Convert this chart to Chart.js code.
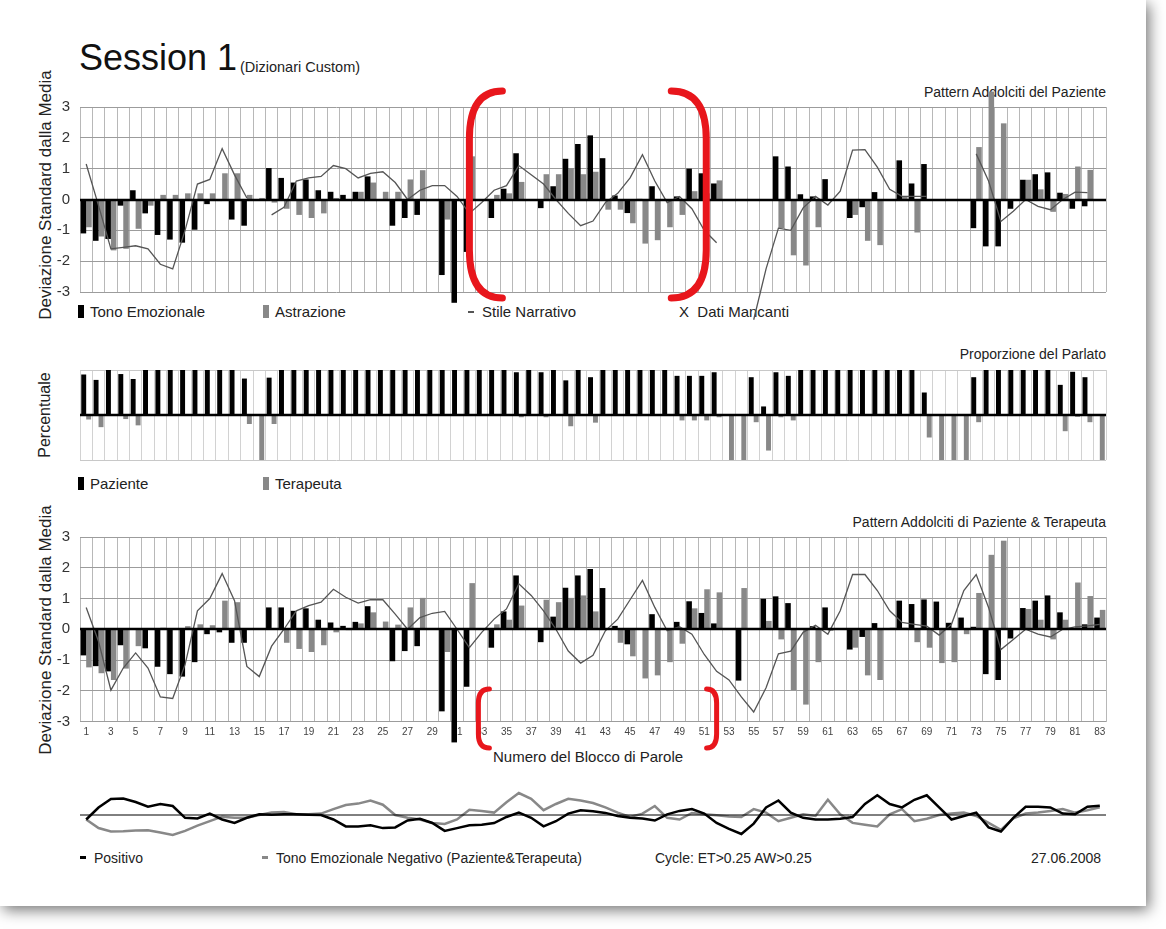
<!DOCTYPE html>
<html>
<head>
<meta charset="utf-8">
<title>Session 1</title>
<script src="https://cdn.jsdelivr.net/npm/chart.js@4.4.1/dist/chart.umd.min.js"></script>
<style>
  html, body { margin: 0; padding: 0; background: #fff; }
  body { width: 1166px; height: 929px; position: relative; overflow: hidden;
         font-family: "Liberation Sans", Arial, sans-serif; color: #222; }
  .sheet { position: absolute; left: 0; top: 0; width: 1146px; height: 906px; background: #fff;
           box-shadow: 3px 4px 14px rgba(0,0,0,0.55); }
  canvas { position: absolute; left: 0; }
  .t { position: absolute; white-space: nowrap; line-height: 1; }
  .r { text-align: right; }
  .v { transform: translate(-50%, -50%) rotate(-90deg); }
  .mk { display: inline-block; width: 6px; height: 13px; margin-right: 6px; vertical-align: -1px; }
  .dash { display: inline-block; width: 6px; height: 3px; margin-right: 8px; vertical-align: 4px; }
</style>
</head>
<body>
<div class="sheet"></div>

<div class="t" style="left:79px; top:40px; font-size:36px; color:#111;">Session 1</div>
<div class="t" style="left:240px; top:60px; font-size:14.5px;">(Dizionari Custom)</div>

<div class="t v" style="left:45px; top:195px; font-size:17px;">Deviazione Standard dalla Media</div>
<div class="t v" style="left:45px; top:415px; font-size:16px;">Percentuale</div>
<div class="t v" style="left:45px; top:630px; font-size:17px;">Deviazione Standard dalla Media</div>

<div class="t r" style="right:60px; top:85px; font-size:14px;">Pattern Addolciti del Paziente</div>
<div class="t r" style="right:60px; top:347px; font-size:14px;">Proporzione del Parlato</div>
<div class="t r" style="right:60px; top:515px; font-size:14px;">Pattern Addolciti di Paziente &amp; Terapeuta</div>

<div class="t" style="left:78px; top:304px; font-size:15px;"><span class="mk" style="background:#000"></span>Tono Emozionale</div>
<div class="t" style="left:263px; top:304px; font-size:15px;"><span class="mk" style="background:#888"></span>Astrazione</div>
<div class="t" style="left:468px; top:304px; font-size:15px;"><span class="dash" style="background:#555;height:2px"></span>Stile Narrativo</div>
<div class="t" style="left:679px; top:304px; font-size:15px;">X&nbsp; Dati Mancanti</div>

<div class="t" style="left:78px; top:476px; font-size:15px;"><span class="mk" style="background:#000"></span>Paziente</div>
<div class="t" style="left:263px; top:476px; font-size:15px;"><span class="mk" style="background:#888"></span>Terapeuta</div>

<div class="t" style="left:493px; top:749px; font-size:15px;">Numero del Blocco di Parole</div>

<div class="t" style="left:80px; top:851px; font-size:14px;"><span class="dash" style="background:#000"></span>Positivo</div>
<div class="t" style="left:262px; top:851px; font-size:14px;"><span class="dash" style="background:#888"></span>Tono Emozionale Negativo (Paziente&amp;Terapeuta)</div>
<div class="t" style="left:655px; top:851px; font-size:14px;">Cycle: ET&gt;0.25 AW&gt;0.25</div>
<div class="t" style="left:1031px; top:851px; font-size:14px;">27.06.2008</div>

<canvas id="chartPaziente" width="1166" height="240" style="top:80px"></canvas>
<canvas id="chartParlato" width="1166" height="130" style="top:350px"></canvas>
<canvas id="chartCoppia" width="1166" height="250" style="top:510px"></canvas>
<canvas id="chartCiclo" width="1166" height="70" style="top:780px"></canvas>

<script>
// blocchi di parole 1..83
const blocchi = [1,2,3,4,5,6,7,8,9,10,11,12,13,14,15,16,17,18,19,20,21,22,23,24,25,26,27,28,29,30,
  31,32,33,34,35,36,37,38,39,40,41,42,43,44,45,46,47,48,49,50,51,52,53,54,55,56,57,58,59,60,
  61,62,63,64,65,66,67,68,69,70,71,72,73,74,75,76,77,78,79,80,81,82,83];
const yTicks = [-3, -2, -1, 0, 1, 2, 3];

// Pattern Addolciti del Paziente
const tonoPaziente = [-1.1,-1.34,-1.28,-0.2,0.3,-0.45,-1.15,-1.3,-1.4,-0.98,-0.15,-0.05,-0.65,-0.85,0,
  1.02,0.7,0.55,0.65,0.3,0.25,0.15,0.25,0.75,0,-0.85,-0.6,-0.5,0,-2.45,-3.35,-1.7,0,-0.6,0.35,
  1.5,0,-0.28,0.43,1.32,1.8,2.08,1.34,0.13,-0.44,0.02,0.43,0,0.1,1.0,0.85,0.52,0,0,0,
  0,1.4,1.07,0.17,0.1,0.66,0,-0.6,-0.25,0.24,0,1.27,0.52,1.15,0,0,0,-0.93,-1.52,-1.52,
  -0.3,0.64,0.82,0.88,0.22,-0.3,-0.22,0];
const astrazionePaziente = [-0.9,-1.2,-1.65,-1.6,-0.95,-0.2,0.15,0.15,0.2,0.2,0.2,0.85,0.85,0.15,0.05,
  -0.1,-0.3,-0.5,-0.6,-0.45,0.05,0,0.25,0.55,0.25,0.25,0.65,0.95,0,-0.65,0,1.4,0,0.15,0.2,
  0.57,0,0.82,0.82,1.02,0.82,0.9,-0.33,-0.33,-0.77,-1.43,-1.32,-0.9,-0.5,0.27,0.2,0.62,0,0,0,
  0,-0.93,-1.81,-2.14,-0.9,0,0,-0.5,-1.34,-1.48,0,0.1,-1.07,0,0,0,0,1.7,3.5,2.47,
  0,0.64,0.33,-0.4,0.18,1.07,0.96,0];
const stilePaziente = [1.15,-0.2,-1.6,-1.55,-1.5,-1.6,-2.1,-2.25,-1.0,0.5,0.65,1.65,0.8,0.05,null,
  -0.5,-0.25,0.6,0.7,0.75,1.1,1.0,0.7,0.85,0.9,0.55,0.0,0.3,0.45,0.45,0.1,-0.45,-0.1,0.3,0.45,
  1.1,0.8,0.5,0.0,-0.45,-0.85,-0.7,-0.1,0.2,0.7,1.45,0.6,-0.1,0.1,-0.3,-1.0,-1.4,null,null,-3.9,
  -2.25,-0.93,-1.0,-0.27,0.1,-0.18,0.27,1.6,1.62,1.05,0.33,0.1,0.1,0.1,null,null,null,1.48,0.6,-0.71,
  -0.38,0,-0.22,-0.33,0,0.24,0.22,null];

// Proporzione del Parlato
const quotaPaziente = [0.9,0.78,1,0.91,0.8,1,1,1,1,1,1,1,1,0.81,0,
  0.83,1,1,1,1,1,1,1,1,1,1,1,1,1,1,1,1,1,1,1,
  0.95,1,0.95,1,0.77,1,0.84,1,1,1,1,1,1,0.87,0.87,0.87,0.95,0,0,0.84,
  0.19,0.95,0.87,1,1,1,1,1,1,1,1,1,1,0.5,0,0,0,0.84,1,1,
  1,1,1,1,0.67,0.96,0.84,0];
const quotaTerapeuta = [-0.1,-0.27,0,-0.09,-0.23,0,0,0,0,0,0,0,0,-0.2,-1,
  -0.2,0,0,0,0,0,0,0,0,0,0,0,0,0,0,0,0,0,0,0,
  -0.05,0,-0.05,0,-0.25,0,-0.17,0,0,0,0,0,0,-0.12,-0.12,-0.12,-0.05,-1,-1,-0.16,
  -0.79,-0.05,-0.12,0,0,0,0,0,0,0,0,0,0,-0.5,-1,-1,-1,-0.16,0,0,
  0,0,0,0,-0.36,-0.04,-0.16,-1];

// Pattern Addolciti di Paziente & Terapeuta
const tonoCoppia = [-0.85,-1.2,-1.37,-0.52,0,-0.62,-1.22,-1.46,-1.54,-1.07,-0.16,-0.1,-0.44,-0.44,0,
  0.71,0.71,0.6,0.68,0.31,0.22,0.11,0.24,0.75,0,-1.04,-0.71,-0.55,0,-2.67,-3.68,-1.87,0,-0.6,0.58,
  1.75,0,-0.42,0.41,1.35,1.75,1.96,1.34,0.11,-0.49,0,0.49,0,0.24,0.91,0.53,0.19,0,-1.67,0,
  0.99,1.07,0.85,0.03,0.1,0.71,0,-0.66,-0.25,0.2,0,0.93,0.82,0.97,0.9,0.21,0.38,0.08,-1.46,-1.65,
  -0.3,0.69,0.93,1.1,0.55,0.03,0.16,0.38];
const astrazioneCoppia = [-1.24,-1.43,-1.65,-1.28,-0.55,0,0.05,0,0.1,0.16,0.13,0.93,0.88,0,0,
  0,-0.44,-0.64,-0.74,-0.52,-0.1,-0.03,0.19,0.55,0.25,0.15,0.71,1.02,0,-0.74,0,1.5,0,0.16,0.31,
  0.77,0,0.96,0.88,1.02,1.1,0.58,0,-0.44,-0.88,-1.6,-1.5,-1.07,-0.47,0.68,1.3,1.2,0,1.34,0,
  0.27,-0.33,-1.98,-2.45,-1.07,-0.05,0,-0.6,-1.5,-1.65,0.05,0.05,-0.42,-0.6,-1.1,-1.07,-0.16,1.18,2.42,2.88,
  0,0.66,0.31,-0.33,0.31,1.52,1.08,0.63];
const stileCoppia = [0.71,-0.4,-1.98,-1.26,-0.77,-1.26,-2.2,-2.25,-1.15,0.6,1.0,1.81,0.93,-1.21,-1.54,
  -0.55,0,0.6,0.77,0.88,1.3,1.04,0.85,0.96,0.96,0.49,0,0.38,0.52,0.58,0,-0.6,-0.1,0.33,0.66,
  1.48,1.1,0.6,0,-0.71,-1.1,-0.85,-0.05,0.33,0.96,1.59,0.71,-0.05,0.08,-0.16,-0.82,-1.37,-1.65,-2.2,-2.69,
  -1.9,-0.8,-0.71,-0.1,0.13,-0.16,0.6,1.78,1.78,1.26,0.6,0.22,0.16,0.1,-0.19,0.16,1.26,1.78,0.71,-0.66,
  -0.33,0,-0.16,-0.25,0,0.08,0.11,0.16];

// Ciclo: tono positivo / negativo
const tonoPositivo = [-0.45,0.75,1.6,1.65,1.3,0.83,1.1,0.9,-0.28,-0.35,0.14,-0.45,-0.8,-0.28,0.07,
  0.03,0.07,0.07,0.03,0,-0.45,-1.14,-1.14,-1.03,-1.31,-1.24,-0.55,-0.38,-0.8,-1.59,-1.31,-1.03,-0.97,-0.8,-0.2,
  0.24,-0.28,-1.14,-0.62,0.14,0.48,0.38,0.21,-0.1,-0.28,-0.34,-0.55,0.07,0.41,0.59,0.14,-0.79,-1.38,-1.9,-0.86,
  0.76,1.45,0.24,-0.28,-0.45,-0.45,-0.38,-0.2,1.1,1.97,1.1,0.76,1.52,1.97,0.76,-0.45,-0.1,0.24,-1.24,-1.65,
  -0.28,0.83,0.83,0.76,0.14,0.07,0.83,0.93];
const tonoNegativo = [-0.45,-1.3,-1.65,-1.62,-1.55,-1.52,-1.76,-2.0,-1.59,-1.07,-0.62,-0.17,-0.28,-0.28,0,
  0.24,0.31,0.07,0.07,0.14,0.59,1.0,1.14,1.45,1.03,0,-0.28,-0.45,-0.8,-0.9,-0.45,0.52,0.41,0.24,1.28,
  2.2,1.62,0.48,1.1,1.62,1.45,1.2,0.76,0.24,-0.2,0.14,0.9,-0.28,-0.45,0.2,0.07,-0.03,-0.14,-0.2,0.59,
  0.24,-0.62,-0.28,0.07,-0.1,1.52,0.07,-0.79,-0.97,-1.14,0.07,0.59,-0.62,-0.38,0,0.14,0.24,-0.1,-0.79,-1.48,
  -0.34,0.14,0.24,0.41,0.59,0.24,0.48,0.76];

const NERO = '#000000';
const GRIGIO = '#888888';
const LINEA = '#555555';

// thick line on zero, drawn over the bars
const zeroLine = {
  id: 'zeroLine',
  afterDatasetsDraw(chart, args, opts) {
    const { ctx, chartArea, scales } = chart;
    const y = Math.round(scales.y.getPixelForValue(0));
    ctx.save();
    ctx.strokeStyle = opts.color || '#000';
    ctx.lineWidth = opts.width || 2.5;
    ctx.beginPath();
    ctx.moveTo(chartArea.left, y);
    ctx.lineTo(chartArea.right, y);
    ctx.stroke();
    ctx.restore();
  }
};

// red brackets used to mark a zone of the session
const brackets = {
  id: 'brackets',
  afterDraw(chart, args, opts) {
    if (!opts.items) return;
    const { ctx, scales } = chart;
    ctx.save();
    ctx.strokeStyle = '#e8161c';
    ctx.lineWidth = opts.width;
    ctx.lineCap = 'round';
    opts.items.forEach(b => {
      const x = scales.x.getPixelForValue(b.at) + (b.dx || 0);
      const d = b.depth, r = opts.radius;
      ctx.beginPath();
      ctx.moveTo(x + d, opts.y0);
      ctx.quadraticCurveTo(x, opts.y0, x, opts.y0 + r);
      ctx.lineTo(x, opts.y1 - r);
      ctx.quadraticCurveTo(x, opts.y1, x + d, opts.y1);
      ctx.stroke();
    });
    ctx.restore();
  }
};

Chart.register(zeroLine, brackets);
Chart.defaults.font.family = '"Liberation Sans", Arial, sans-serif';
Chart.defaults.color = '#222';

function yFit(scale) { scale.width = 80; }
function xFit(h) { return scale => { scale.height = h; }; }

function patternChart(id, tono, astrazione, stile, padTop, padBottom, xLabels, bracketOpts) {
  return new Chart(document.getElementById(id), {
    type: 'bar',
    data: {
      labels: blocchi,
      datasets: [
        { label: 'Tono Emozionale', data: tono, backgroundColor: NERO, order: 2, clip: false,
          categoryPercentage: 0.9, barPercentage: 1.0 },
        { label: 'Astrazione', data: astrazione, backgroundColor: GRIGIO, order: 2, clip: false,
          categoryPercentage: 0.9, barPercentage: 1.0 },
        { type: 'line', label: 'Stile Narrativo', data: stile, borderColor: LINEA, borderWidth: 1.3,
          pointRadius: 0, tension: 0, order: 1, clip: false, spanGaps: false }
      ]
    },
    options: {
      responsive: false,
      animation: false,
      devicePixelRatio: 1,
      layout: { padding: { top: padTop, bottom: padBottom, left: 0, right: 60 } },
      plugins: {
        legend: { display: false },
        tooltip: { enabled: false },
        zeroLine: { width: 2.6 },
        brackets: bracketOpts
      },
      scales: {
        x: {
          grid: { color: '#b8b8b8', lineWidth: 1, drawTicks: false, offset: true },
          border: { display: false },
          ticks: {
            display: xLabels, autoSkip: false, maxRotation: 0, padding: 5,
            font: { size: 10 }, color: '#444',
            callback: (v, i) => (i % 2 === 0 ? blocchi[i] : '')
          },
          afterFit: xFit(xLabels ? 20 : 0)
        },
        y: {
          min: -3, max: 3,
          afterBuildTicks: s => { s.ticks = yTicks.map(v => ({ value: v })); },
          grid: { color: '#9c9c9c', lineWidth: 1, drawTicks: false },
          border: { display: false },
          ticks: { font: { size: 15 }, color: '#333', padding: 10 },
          afterFit: yFit
        }
      }
    }
  });
}

// panel 1
patternChart('chartPaziente', tonoPaziente, astrazionePaziente, stilePaziente, 27, 28, false, {
  width: 7, radius: 48, y0: 11, y1: 218,
  items: [{ at: 31, dx: 0, depth: 33 }, { at: 50, dx: 2, depth: -35 }]
});

// panel 2
new Chart(document.getElementById('chartParlato'), {
  type: 'bar',
  data: {
    labels: blocchi,
    datasets: [
      { label: 'Paziente', data: quotaPaziente, backgroundColor: NERO, categoryPercentage: 0.8, barPercentage: 1.0 },
      { label: 'Terapeuta', data: quotaTerapeuta, backgroundColor: GRIGIO, categoryPercentage: 0.8, barPercentage: 1.0 }
    ]
  },
  options: {
    responsive: false,
    animation: false,
    devicePixelRatio: 1,
    layout: { padding: { top: 20, bottom: 20, left: 0, right: 60 } },
    plugins: { legend: { display: false }, tooltip: { enabled: false }, zeroLine: { width: 2.6 } },
    scales: {
      x: {
        grid: { color: '#d2d2d2', drawTicks: false, offset: true },
        border: { display: false },
        ticks: { display: false },
        afterFit: xFit(0)
      },
      y: {
        min: -1, max: 1,
        ticks: { display: false, stepSize: 1 },
        grid: { color: '#c8c8c8', drawTicks: false },
        border: { display: false },
        afterFit: yFit
      }
    }
  }
});

// panel 3
patternChart('chartCoppia', tonoCoppia, astrazioneCoppia, stileCoppia, 27, 18.5, true, {
  width: 5, radius: 14, y0: 179, y1: 238,
  items: [{ at: 31, dx: 9, depth: 11 }, { at: 51, dx: 0, depth: -10 }]
});

// panel 4
new Chart(document.getElementById('chartCiclo'), {
  type: 'line',
  data: {
    labels: blocchi,
    datasets: [
      { label: 'Positivo', data: tonoPositivo, borderColor: NERO, borderWidth: 2.5, pointRadius: 0, clip: false, order: 1 },
      { label: 'Negativo', data: tonoNegativo, borderColor: GRIGIO, borderWidth: 2.5, pointRadius: 0, clip: false, order: 2 }
    ]
  },
  options: {
    responsive: false,
    animation: false,
    devicePixelRatio: 1,
    layout: { padding: { top: 10, bottom: 10, left: 0, right: 60 } },
    plugins: { legend: { display: false }, tooltip: { enabled: false }, zeroLine: { width: 1 } },
    scales: {
      x: { offset: true, grid: { display: false }, border: { display: false },
           ticks: { display: false }, afterFit: xFit(0) },
      y: { min: -2.5, max: 2.5, grid: { display: false }, border: { display: false },
           ticks: { display: false }, afterFit: yFit }
    }
  }
});
</script>
</body>
</html>
